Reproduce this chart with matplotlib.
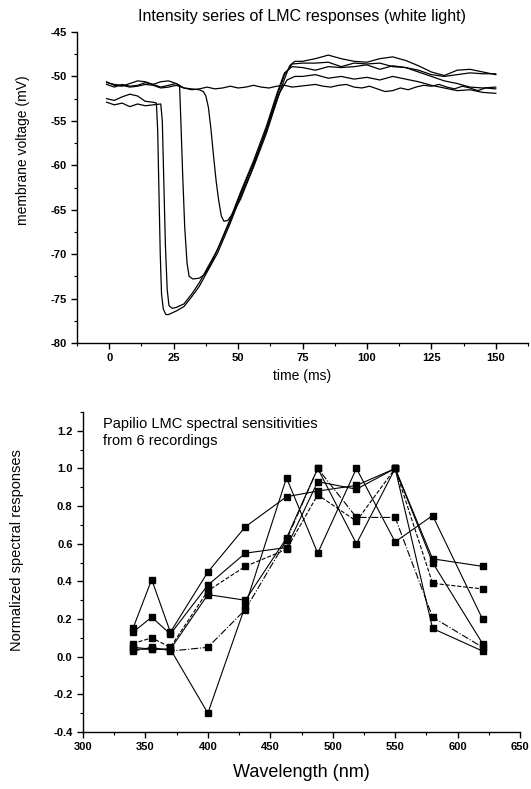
import matplotlib
matplotlib.use("Agg")
import matplotlib.pyplot as plt
from matplotlib.ticker import MultipleLocator

plt.rcParams["font.family"] = ["Liberation Sans", "DejaVu Sans"]
plt.rcParams["axes.unicode_minus"] = False

# ---- top panel: LMC responses (time in ms, voltage in mV) ----
t_late = [75, 80, 85, 90, 95, 100, 105, 110, 115, 120, 125, 130, 135, 140, 145, 150]

flat_t = [-1, 2, 5, 8, 11, 14, 17, 20, 23, 26, 29, 32, 35, 38, 41, 44, 47, 50, 53, 56,
          59, 62, 65, 68, 71, 74, 77, 80, 83, 86, 89, 92, 95, 98, 101, 104, 107, 110,
          113, 116, 119, 122, 125, 128, 131, 134, 137, 140, 143, 146, 150]
flat_v = [-50.7, -50.9, -51.0, -51.2, -51.1, -50.9, -51.0, -51.3, -51.2, -51.0,
          -51.3, -51.5, -51.4, -51.2, -51.4, -51.3, -51.1, -51.3, -51.2, -51.0,
          -51.2, -51.3, -51.1, -51.0, -51.2, -51.1, -51.0, -50.9, -51.1, -51.2,
          -51.0, -50.9, -51.2, -51.3, -51.1, -51.4, -51.7, -51.6, -51.3, -51.5,
          -51.2, -51.0, -51.1, -50.9, -51.2, -51.4, -51.1, -51.3, -51.6, -51.3,
          -51.4]

r1_t = [-1, 2, 5, 8, 11, 14, 17, 18.3, 18.8, 19.3, 19.8, 20.3, 21, 22, 23, 26, 29, 32,
        35, 38, 42, 47, 51, 56, 61, 65, 68, 70, 72] + t_late
r1_v = [-52.5, -52.7, -52.3, -52.0, -52.2, -52.8, -52.9, -53.0, -56, -63, -70, -74.5,
        -76.2, -76.8, -76.8, -76.4, -75.9, -74.8, -73.6, -72.0, -69.9, -66.5, -63.5,
        -60.2, -56.4, -52.8, -50.3, -48.8, -48.3,
        -48.3, -48.0, -47.6, -48.0, -48.3, -48.4, -48.0, -47.8, -48.2, -48.8, -49.5,
        -49.9, -49.3, -49.2, -49.5, -49.8]

r2_t = [-1, 2, 5, 8, 11, 14, 17, 20, 20.6, 21.2, 21.8, 22.5, 23.2, 24.5, 26, 29, 32,
        35, 38, 42, 47, 51, 56, 61, 65, 68, 71] + t_late
r2_v = [-52.9, -53.2, -53.0, -53.4, -53.1, -53.3, -53.2, -53.1, -55, -62, -69, -74,
        -75.8, -76.1, -76.0, -75.6, -74.5, -73.2, -71.6, -69.5, -66.2, -63.2, -59.8,
        -56.0, -52.3, -49.8, -48.6,
        -48.5, -48.5, -48.4, -48.9, -48.5, -48.6, -48.5, -48.9, -49.0, -49.5, -50.0,
        -50.5, -50.8, -51.2, -51.3, -51.2]

r3_t = [-1, 2, 5, 8, 11, 14, 17, 20, 23, 26, 27.3, 27.8, 28.5, 29.3, 30.2, 31, 32.5,
        35, 37, 40, 43, 47, 51, 56, 61, 65, 68, 71] + t_late
r3_v = [-50.6, -51.0, -51.1, -50.8, -50.5, -50.6, -50.9, -50.6, -50.5, -50.8, -51.0,
        -55, -61, -67, -71, -72.5, -72.8, -72.7, -72.3, -70.8, -68.8, -66.0, -63.0,
        -59.5, -55.6, -52.0, -49.6, -48.9,
        -49.0, -49.3, -48.9, -49.0, -48.9, -48.7, -49.2, -48.8, -49.0, -49.3, -49.8,
        -50.0, -49.8, -49.6, -49.7, -49.7]

r4_t = [-1, 2, 5, 8, 11, 14, 17, 20, 23, 26, 29, 32, 35, 36.5, 37.5, 38.5, 39.5, 40.5,
        41.5, 42.5, 43.5, 44.5, 46, 48, 51, 55, 59, 63, 66, 69, 72] + t_late
r4_v = [-50.9, -51.2, -50.9, -51.1, -51.0, -50.7, -50.9, -51.2, -51.0, -50.8, -51.3,
        -51.4, -51.5, -51.7, -52.2, -53.5, -56.0, -59.0, -61.8, -64.0, -65.7, -66.3,
        -66.2, -65.4, -63.8, -60.9, -57.6, -54.3, -51.9, -50.4, -50.0,
        -50.0, -49.8, -50.2, -50.0, -50.3, -50.1, -50.4, -50.0, -50.3, -50.6, -51.0,
        -51.3, -51.6, -51.5, -51.8, -51.9]

traces = [(flat_t, flat_v), (r1_t, r1_v), (r2_t, r2_v), (r3_t, r3_v), (r4_t, r4_v)]

# ---- bottom panel: spectral sensitivities ----
wavelength = [340, 355, 370, 400, 430, 463, 488, 519, 550, 580, 620]
rec1 = [0.04, 0.04, 0.04, -0.30, 0.27, 0.95, 0.55, 1.00, 0.61, 0.75, 0.20]
rec2 = [0.03, 0.05, 0.03, 0.05, 0.25, 0.62, 1.00, 0.74, 0.74, 0.21, 0.05]
rec3 = [0.15, 0.41, 0.13, 0.45, 0.69, 0.85, 0.88, 0.91, 1.00, 0.50, 0.07]
rec4 = [0.13, 0.21, 0.12, 0.38, 0.55, 0.58, 0.93, 0.89, 1.00, 0.52, 0.48]
rec5 = [0.07, 0.10, 0.05, 0.35, 0.48, 0.57, 0.86, 0.72, 1.00, 0.39, 0.36]
rec6 = [0.05, 0.04, 0.04, 0.33, 0.30, 0.63, 1.00, 0.60, 1.00, 0.15, 0.03]
recordings = [rec1, rec2, rec3, rec4, rec5, rec6]
styles = ["-", "-.", "-", "-", "--", "-"]

W, H = 531, 789
fig = plt.figure(figsize=(W / 100, H / 100), dpi=100)

ax1 = fig.add_axes([77 / W, 1 - 343 / H, (528 - 77) / W, (343 - 32) / H])
for t, v in traces:
    ax1.plot(t, v, color="black", linewidth=0.9)
ax1.set_xlim(-12.5, 162.5)
ax1.set_ylim(-80, -45)
ax1.xaxis.set_major_locator(MultipleLocator(25))
ax1.xaxis.set_minor_locator(MultipleLocator(12.5))
ax1.yaxis.set_major_locator(MultipleLocator(5))
ax1.yaxis.set_minor_locator(MultipleLocator(2.5))
ax1.set_title("Intensity series of LMC responses (white light)", fontsize=11.5, pad=8)
ax1.set_xlabel("time (ms)", fontsize=10, labelpad=4)
ax1.set_ylabel("membrane voltage (mV)", fontsize=10)
ax1.yaxis.set_label_coords(-0.105, 0.62)

ax2 = fig.add_axes([83 / W, 1 - 732 / H, (520 - 83) / W, (732 - 412) / H])
for vals, ls in zip(recordings, styles):
    ax2.plot(wavelength, vals, color="black", linewidth=0.8, linestyle=ls,
             marker="s", markersize=4)
ax2.set_xlim(300, 650)
ax2.set_ylim(-0.4, 1.3)
ax2.xaxis.set_major_locator(MultipleLocator(50))
ax2.xaxis.set_minor_locator(MultipleLocator(25))
ax2.yaxis.set_major_locator(MultipleLocator(0.2))
ax2.yaxis.set_minor_locator(MultipleLocator(0.1))
ax2.yaxis.set_major_formatter(plt.FormatStrFormatter("%.1f"))
ax2.text(0.045, 0.985, "Papilio LMC spectral sensitivities\nfrom 6 recordings",
         transform=ax2.transAxes, fontsize=10.5, va="top", ha="left", linespacing=1.3)
ax2.set_xlabel("Wavelength (nm)", fontsize=13, labelpad=8)
ax2.set_ylabel("Normalized spectral responses", fontsize=10.5)
ax2.yaxis.set_label_coords(-0.135, 0.57)

for ax in (ax1, ax2):
    ax.spines["top"].set_visible(False)
    ax.spines["right"].set_visible(False)
    ax.spines["left"].set_linewidth(1.0)
    ax.spines["bottom"].set_linewidth(1.0)
    ax.tick_params(which="major", direction="out", length=4, width=1, labelsize=8)
    ax.tick_params(which="minor", direction="out", length=2, width=0.8)
    for lab in ax.get_xticklabels() + ax.get_yticklabels():
        lab.set_fontweight("bold")

fig.savefig("out.png", dpi=100)
